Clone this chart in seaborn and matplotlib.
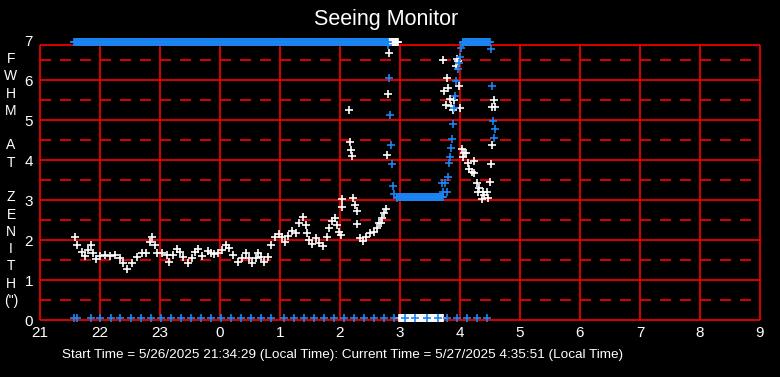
import numpy as np
import pandas as pd
import matplotlib
matplotlib.use("Agg")
import matplotlib.pyplot as plt
import seaborn as sns

# times are minutes after 21:00 local, values are FWHM in arcsec
a_min = [35, 37, 42, 45, 48, 51, 53, 56, 60, 65, 70, 75, 80, 83, 87, 92, 97, 102, 106, 110,
         112, 115, 117, 122, 127, 129, 133, 137]
a_val = [2.08, 1.88, 1.71, 1.60, 1.75, 1.88, 1.67, 1.52, 1.60, 1.63, 1.60, 1.63, 1.54, 1.42,
         1.27, 1.42, 1.58, 1.67, 1.68, 1.96, 2.08, 1.88, 1.67, 1.67, 1.63, 1.46, 1.63, 1.77]
b_min = [140, 143, 148, 152, 155, 158, 162, 168, 171, 174, 178, 182, 186, 189, 193, 198, 202,
         206, 209, 212, 216, 218, 221, 224, 228, 231, 235, 239, 242]
b_val = [1.71, 1.58, 1.42, 1.54, 1.71, 1.77, 1.60, 1.73, 1.67, 1.65, 1.67, 1.75, 1.88, 1.79,
         1.63, 1.46, 1.54, 1.68, 1.54, 1.42, 1.54, 1.68, 1.58, 1.46, 1.58, 1.88, 2.07, 2.15, 2.08]
c_min = [245, 248, 252, 256, 259, 263, 266, 267, 269, 272, 276, 279, 283, 287, 289, 292, 295,
         297, 299, 301, 320, 323, 326, 330, 334, 337, 339, 341, 342, 344, 346]
c_val = [1.96, 2.10, 2.23, 2.18, 2.42, 2.58, 2.38, 2.18, 2.00, 1.90, 2.04, 1.93, 1.85, 2.08,
         2.29, 2.48, 2.54, 2.38, 2.21, 2.13, 2.04, 1.98, 2.08, 2.17, 2.21, 2.29, 2.42, 2.43,
         2.54, 2.67, 2.77]
s_min = [302, 302, 309, 310, 311, 312, 313, 315, 317, 317, 347, 348, 349]
s_val = [3.02, 2.82, 5.24, 4.44, 4.24, 4.09, 3.04, 2.88, 2.73, 2.40, 4.12, 5.64, 6.67]
m_min = [403, 404, 406, 407, 408, 410, 411, 413, 414, 416, 417, 418, 419, 420, 422, 423, 424,
         426, 428, 429, 432, 434, 434, 437, 438, 439, 442, 443, 444, 447, 448, 450, 451, 452,
         452, 454, 455]
m_val = [6.50, 5.73, 5.38, 6.04, 5.79, 5.53, 5.36, 5.25, 5.50, 6.36, 6.53, 6.48, 5.85, 5.29,
         4.27, 4.08, 4.17, 4.17, 3.93, 3.77, 3.71, 3.97, 3.68, 3.43, 3.19, 3.31, 3.03, 3.20,
         3.13, 3.19, 3.06, 3.45, 3.89, 4.37, 5.33, 5.49, 5.33]

# saturated runs (start, end minute, level)
white_top_run = (349, 358, 6.94)
white_floor_run = (359, 403, 0.05)
blue_top_run1 = (34, 348, 6.94)
blue_mid_run = (357, 403, 3.07)
blue_top_run2 = (423, 450, 6.94)

blue_drop_min = [348, 349, 350, 351, 352, 353, 354, 357]
blue_drop_val = [6.88, 6.04, 5.12, 4.37, 3.89, 3.35, 3.15, 3.04]
blue_rise_min = [402, 403, 405, 407, 408, 409, 410, 411, 412, 413, 414, 415, 416, 418, 419,
                 420, 421, 423]
blue_rise_val = [3.42, 3.19, 3.42, 3.19, 3.58, 3.92, 4.07, 4.29, 4.52, 4.89, 5.29, 5.60, 5.97,
                 6.27, 6.42, 6.57, 6.79, 6.92]
blue_fall_min = [451, 452, 453, 454, 455]
blue_fall_val = [6.77, 5.84, 4.97, 4.54, 4.77]
blue_floor_min = [34, 37, 51, 60, 71, 80, 91, 101, 111, 121, 131, 141, 151, 161, 171, 181, 191,
                  201, 211, 221, 231, 244, 254, 264, 274, 284, 294, 304, 314, 324, 334, 344,
                  354, 365, 375, 387, 398, 407, 417, 427, 437, 447]

x_ticks = list(range(21, 34))
x_labels = ['21', '22', '23', '0', '1', '2', '3', '4', '5', '6', '7', '8', '9']
y_ticks = list(range(0, 8))
frame_top = 6.875


def run(r):
    mins = np.arange(r[0], r[1] + 1)
    return list(mins), [r[2]] * len(mins)


wt_m, wt_v = run(white_top_run)
wf_m, wf_v = run(white_floor_run)
white_m = a_min + b_min + c_min + s_min + m_min + wt_m + wf_m
white_v = a_val + b_val + c_val + s_val + m_val + wt_v + wf_v

bt1_m, bt1_v = run(blue_top_run1)
bm_m, bm_v = run(blue_mid_run)
bt2_m, bt2_v = run(blue_top_run2)
blue_m = bt1_m + blue_drop_min + bm_m + blue_rise_min + bt2_m + blue_fall_min
blue_v = bt1_v + blue_drop_val + bm_v + blue_rise_val + bt2_v + blue_fall_val

white = pd.DataFrame({'hour': 21 + np.array(white_m) / 60, 'fwhm': white_v})
blue = pd.DataFrame({'hour': 21 + np.array(blue_m) / 60, 'fwhm': blue_v})
floor = pd.DataFrame({'hour': 21 + np.array(blue_floor_min) / 60,
                      'fwhm': [0.05] * len(blue_floor_min)})

sns.set_style("dark", {"axes.facecolor": "black", "figure.facecolor": "black"})
plt.rcParams['font.family'] = ['Liberation Sans', 'DejaVu Sans']
plt.rcParams['lines.scale_dashes'] = False

RED = '#ff0000'
BLUE = '#1a86f5'

fig = plt.figure(figsize=(7.8, 3.77), dpi=100)
fig.patch.set_facecolor('black')
ax = fig.add_axes([40 / 780, 57 / 377, 720 / 780, 280 / 377])
ax.set_facecolor('black')

# grid
ax.vlines(x_ticks, 0, frame_top, colors=RED, lw=1.2, zorder=1)
ax.hlines(list(range(0, 7)) + [frame_top], 21, 33, colors=RED, lw=1.2, zorder=1)
for yv in np.arange(0.5, 7, 1.0):
    ax.plot([21, 33], [yv, yv], color=RED, lw=1.2, linestyle=(0, (7.92, 6.48)), zorder=1)

kw = dict(marker='+', s=30, linewidth=1.2, legend=False, ax=ax, zorder=3)
sns.scatterplot(data=white, x='hour', y='fwhm', color='white', **kw)
sns.scatterplot(data=blue, x='hour', y='fwhm', color=BLUE, **kw)
sns.scatterplot(data=floor, x='hour', y='fwhm', color=BLUE, **kw)
for c in ax.collections:
    c.set_clip_on(False)

ax.set_xlim(21, 33)
ax.set_ylim(0, 7)
ax.set_xticks(x_ticks)
ax.set_xticklabels(x_labels)
ax.set_yticks(y_ticks)
ax.set_yticklabels([str(v) for v in y_ticks])
ax.tick_params(axis='both', length=0, colors='white', labelsize=11)
ax.tick_params(axis='x', pad=4)
ax.tick_params(axis='y', pad=5)
ax.set_xlabel('')
ax.set_ylabel('')
for sp in ax.spines.values():
    sp.set_visible(False)
ax.grid(False)

fig.text(386 / 780, 1 - 20 / 377, 'Seeing Monitor', ha='center', va='center',
         color='white', fontsize=15.5)
fig.text(11 / 780, 1 - 180 / 377, 'F\nW\nH\nM\n\nA\nT\n\nZ\nE\nN\nI\nT\nH\n(")',
         ha='center', va='center', color='white', fontsize=10, linespacing=1.3)
fig.text(343 / 780, 1 - 355 / 377,
         'Start Time = 5/26/2025 21:34:29 (Local Time): Current Time = 5/27/2025 4:35:51 (Local Time)',
         ha='center', va='center', color='white', fontsize=9.7)

fig.savefig('out.png', dpi=100, facecolor='black')
